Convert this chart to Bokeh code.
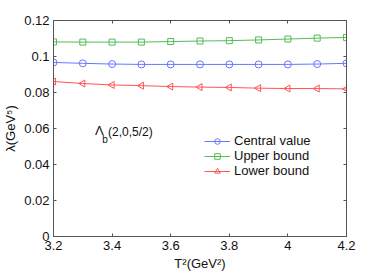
import numpy as np
from bokeh.plotting import figure
from bokeh.models import Range1d, FixedTicker, LinearAxis, Label, Legend
from bokeh.embed import file_html
from bokeh.resources import INLINE

# ---- data ----
T2 = [3.2, 3.3, 3.4, 3.5, 3.6, 3.7, 3.8, 3.9, 4.0, 4.1, 4.2]
central = [0.0967, 0.0962, 0.0958, 0.0956, 0.0956, 0.0956, 0.0956, 0.0956, 0.0956, 0.0958, 0.0962]
upper = [0.1081, 0.1080, 0.1080, 0.1080, 0.1083, 0.1086, 0.1088, 0.1092, 0.1097, 0.1102, 0.1106]
lower = [0.0861, 0.0850, 0.0842, 0.0838, 0.0833, 0.0830, 0.0828, 0.0824, 0.0822, 0.0822, 0.0820]

x_ticks = [3.2, 3.4, 3.6, 3.8, 4.0, 4.2]
x_tick_labels = ["3.2", "3.4", "3.6", "3.8", "4", "4.2"]
y_ticks = [0, 0.02, 0.04, 0.06, 0.08, 0.10, 0.12]
y_tick_labels = ["0", "0.02", "0.04", "0.06", "0.08", "0.1", "0.12"]

series_names = ["Central value", "Upper bound", "Lower bound"]
FONT = "Liberation Sans"
AXC = "#555555"

p = figure(width=382, height=273, output_backend="svg", toolbar_location=None,
           x_range=Range1d(3.2, 4.2), y_range=Range1d(0, 0.12),
           min_border_left=51, min_border_right=36, min_border_top=20, min_border_bottom=35)
p.grid.visible = False
p.outline_line_color = AXC
p.outline_line_width = 1
p.background_fill_color = "white"
p.border_fill_color = "white"

def style_axis(ax, ticks, labels, show_labels=True):
    ax.ticker = FixedTicker(ticks=ticks)
    ax.major_label_overrides = {t: l for t, l in zip(ticks, labels)}
    ax.minor_tick_line_color = None
    ax.major_tick_in = 3
    ax.major_tick_out = 0
    ax.axis_line_color = AXC
    ax.major_tick_line_color = AXC
    ax.major_label_text_font = FONT
    ax.major_label_text_font_size = "13px"
    ax.major_label_text_color = "#111111"
    ax.major_label_standoff = 4
    if not show_labels:
        ax.major_label_text_alpha = 0
        ax.major_label_text_font_size = "1px"

style_axis(p.xaxis[0], x_ticks, x_tick_labels)
style_axis(p.yaxis[0], y_ticks, y_tick_labels)
p.xaxis[0].axis_label = "T²(GeV²)"
p.yaxis[0].axis_label = "λ(GeV⁵)"
for ax in (p.xaxis[0], p.yaxis[0]):
    ax.axis_label_text_font = FONT
    ax.axis_label_text_font_size = "13px"
    ax.axis_label_text_font_style = "normal"
    ax.axis_label_text_color = "#111111"
    ax.axis_label_standoff = 3

top = LinearAxis()
right = LinearAxis()
style_axis(top, x_ticks, x_tick_labels, show_labels=False)
style_axis(right, y_ticks, y_tick_labels, show_labels=False)
p.add_layout(top, "above")
p.add_layout(right, "right")

colors = ["#6677ff", "#55bb55", "#ff5555"]
items = []
for ys, name, c, mk in zip([central, upper, lower], series_names, colors,
                           ["circle", "square", "triangle"]):
    ln = p.line(T2, ys, line_color=c, line_width=1)
    if mk == "triangle":
        sc = p.scatter(T2, ys, marker="triangle", size=7, angle=np.pi / 2,
                       line_color=c, fill_color=None, line_width=1)
    elif mk == "square":
        sc = p.scatter(T2, ys, marker="square", size=6, line_color=c,
                       fill_color=None, line_width=1)
    else:
        sc = p.scatter(T2, ys, marker="circle", size=7, line_color=c,
                       fill_color=None, line_width=1)
    items.append((name, [ln, sc]))

legend = Legend(items=items, location=(151, 58), padding=0, margin=0,
                border_line_alpha=0, background_fill_alpha=0,
                glyph_width=26, glyph_height=14, spacing=0, label_standoff=4,
                label_text_font=FONT, label_text_font_size="13px",
                label_text_color="#111111", label_height=14)
p.add_layout(legend, "center")

# annotation Λ_b(2,0,5/2)
p.add_layout(Label(x=3.342, y=0.0589, text="Λ", text_font=FONT, text_font_size="13px",
                   text_baseline="middle", text_color="#111111"))
p.add_layout(Label(x=3.366, y=0.0539, text="b", text_font=FONT, text_font_size="10px",
                   text_baseline="middle", text_color="#111111"))
p.add_layout(Label(x=3.386, y=0.0578, text="(2,0,5/2)", text_font=FONT, text_font_size="12px",
                   text_baseline="middle", text_color="#111111"))

open("out.html", "w").write(file_html(p, INLINE))
